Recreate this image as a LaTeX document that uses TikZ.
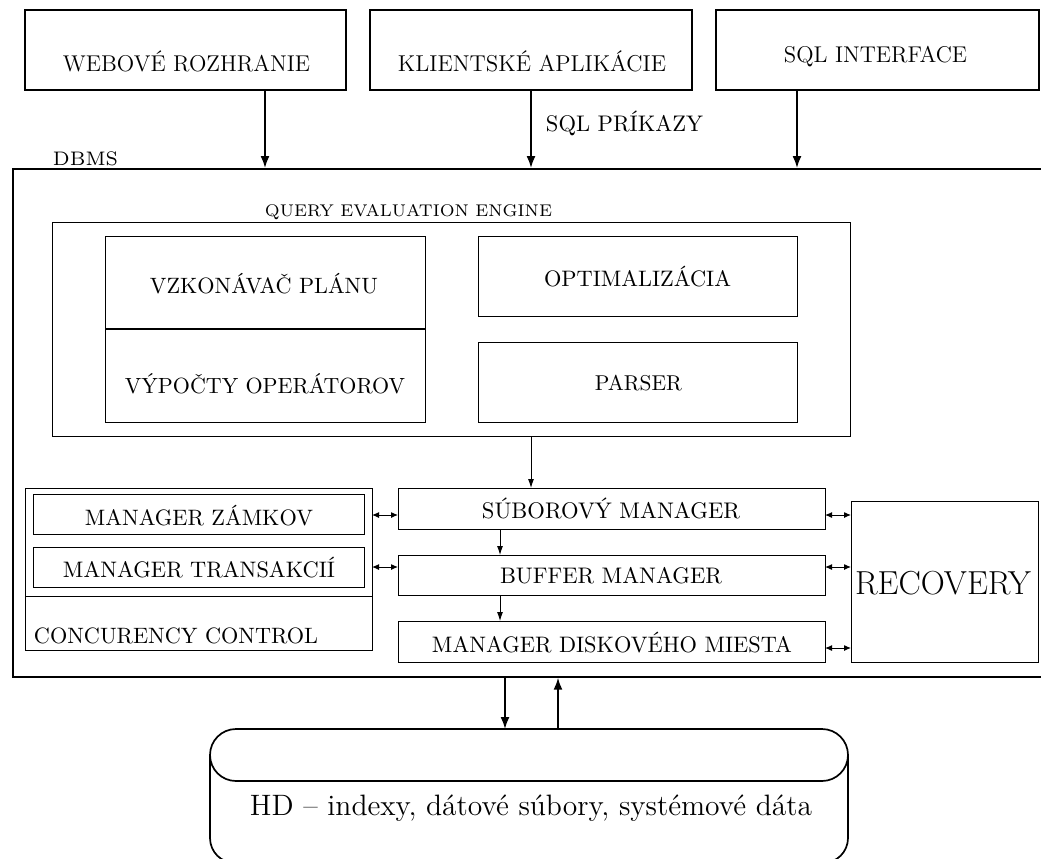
\documentclass[tikz,border=0pt]{standalone}
\usetikzlibrary{arrows.meta}
\newcommand\tx[2]{\resizebox{#1pt}{!}{#2}}
\begin{document}
\begin{tikzpicture}[x=1pt,y=-1pt,
  thickbox/.style={draw,line width=1.7pt,inner sep=0pt},
  thinbox/.style={draw,line width=0.9pt,inner sep=0pt},
  bigarr/.style={line width=1.7pt,-{Latex[length=12pt,width=9pt]}},
  midarr/.style={line width=0.9pt,-{Latex[length=9pt,width=6pt]}},
  dblarr/.style={line width=1pt,{Latex[length=7pt,width=6pt]}-{Latex[length=7pt,width=6pt]}},
  lbl/.style={anchor=base,inner sep=0pt,font=\fontsize{10}{12}\selectfont},
  lbltop/.style={anchor=base,inner sep=0pt,font=\fontsize{12}{14}\selectfont},
  lblsmall/.style={anchor=base,inner sep=0pt,font=\fontsize{7}{8}\selectfont}]
\useasboundingbox (0,0) rectangle (1041,859);
% top boxes
\node[thickbox,minimum width=321pt,minimum height=80pt] (web) at (185.5,50) {};
\node[thickbox,minimum width=322pt,minimum height=80pt] (kli) at (531,50) {};
\node[thickbox,minimum width=323pt,minimum height=80pt] (sqlif) at (877.5,50) {};
\node[lbltop] (webt) at (186.5,71) {\tx{247}{WEBOVÉ ROZHRANIE}};
\node[lbltop] (klit) at (532,71) {\tx{268}{KLIENTSKÉ APLIKÁCIE}};
\node[lbltop] (sqlift) at (875.5,63) {\tx{183}{SQL INTERFACE}};
% DBMS box
\node[thickbox,anchor=north west,minimum width=1060pt,minimum height=508pt] (dbms) at (12,168) {};
\node[lblsmall] (dbmslbl) at (85.5,165) {\tx{65}{DBMS}};
\coordinate (c1) at (265,168);
\coordinate (c2) at (531,168);
\coordinate (c3) at (797,168);
\draw[bigarr] (c1 |- web.south) -- (c1);
\draw[bigarr] (kli.south) -- (c2);
\draw[bigarr] (c3 |- sqlif.south) -- (c3);
\node[lbl] (sqlp) at (624.5,131) {\tx{157}{SQL PRÍKAZY}};
% query evaluation engine
\node[thinbox,anchor=north west,minimum width=798pt,minimum height=214pt] (qee) at (52,222) {};
\node[lblsmall] (qeelbl) at (408.5,216) {\tx{287}{QUERY EVALUATION ENGINE}};
\node[thinbox,anchor=north west,minimum width=320pt,minimum height=92pt] (plan) at (105,236) {};
\node[thinbox,anchor=north west,minimum width=320pt,minimum height=94pt] (ops) at (105,328) {};
\draw[line width=1.7pt] (plan.south west) -- (plan.south east);
\node[thinbox,anchor=north west,minimum width=319pt,minimum height=80pt] (opt) at (478,236) {};
\node[thinbox,anchor=north west,minimum width=319pt,minimum height=80pt] (parser) at (478,342) {};
\node[lbl] (plant) at (264,293) {\tx{228}{VZKONÁVAČ PLÁNU}};
\node[lbl] (opst) at (265,393) {\tx{280}{VÝPOČTY OPERÁTOROV}};
\node[lbl] (optt) at (637.5,286) {\tx{187}{OPTIMALIZÁCIA}};
\node[lbl] (parsert) at (638.5,390) {\tx{87}{PARSER}};
% manager stack
\node[thinbox,anchor=north west,minimum width=427pt,minimum height=41pt] (file) at (398,488) {};
\node[thinbox,anchor=north west,minimum width=427pt,minimum height=40pt] (buf) at (398,555) {};
\node[thinbox,anchor=north west,minimum width=427pt,minimum height=41pt] (disk) at (398,621) {};
\node[lbl] (filet) at (611,518) {\tx{258}{SÚBOROVÝ MANAGER}};
\node[lbl] (buft) at (611,583) {\tx{222}{BUFFER MANAGER}};
\node[lbl] (diskt) at (612,652) {\tx{360}{MANAGER DISKOVÉHO MIESTA}};
\coordinate (q1) at (531,436);
\draw[midarr] (q1) -- (q1 |- file.north);
\coordinate (m1) at (500,529);
\draw[midarr] (m1) -- (m1 |- buf.north);
\coordinate (m2) at (500,595);
\draw[midarr] (m2) -- (m2 |- disk.north);
% concurrency control
\node[thinbox,anchor=north west,minimum width=347pt,minimum height=162pt] (cc) at (25,488) {};
\node[thinbox,anchor=north west,minimum width=331pt,minimum height=40pt] (lock) at (33,494) {};
\node[thinbox,anchor=north west,minimum width=331pt,minimum height=40pt] (trans) at (33,547) {};
\node[lbl] (lockt) at (199,525) {\tx{228}{MANAGER ZÁMKOV}};
\node[lbl] (transt) at (199,577) {\tx{272}{MANAGER TRANSAKCIÍ}};
\coordinate (ccl) at (25,596);
\coordinate (ccr) at (372,596);
\draw[line width=0.9pt] (ccl) -- (ccr);
\node[lbl] (cclbl) at (176,643) {\tx{284}{CONCURENCY CONTROL}};
% recovery
\node[thinbox,anchor=north west,minimum width=187pt,minimum height=161pt] (rec) at (851,501) {};
\node[anchor=base,inner sep=0pt,font=\fontsize{17}{20}\selectfont] (rect) at (943,594) {\tx{176}{RECOVERY}};
% double arrows
\coordinate (d1) at (372,515);
\coordinate (d2) at (372,567);
\draw[dblarr] (d1) -- (d1 -| file.west);
\draw[dblarr] (d2) -- (d2 -| buf.west);
\coordinate (e1) at (825,515);
\coordinate (e2) at (825,567);
\coordinate (e3) at (825,648);
\draw[dblarr] (e1) -- (e1 -| rec.west);
\draw[dblarr] (e2) -- (e2 -| rec.west);
\draw[dblarr] (e3) -- (e3 -| rec.west);
% disk cylinder
\draw[line width=1.7pt,rounded corners=26pt] (210,729) rectangle (848,781);
\draw[line width=1.7pt,rounded corners=25pt] (210,755) -- (210,863) -- (848,863) -- (848,755);
\node[lbltop] (hd) at (531,815) {\tx{562}{HD -- indexy, dátové súbory, systémové dáta}};
\coordinate (hdt1) at (505,729);
\coordinate (hdt2) at (558,729);
\draw[bigarr] (hdt1 |- dbms.south) -- (hdt1);
\draw[bigarr] (hdt2) -- (hdt2 |- dbms.south);
\end{tikzpicture}
\end{document}
